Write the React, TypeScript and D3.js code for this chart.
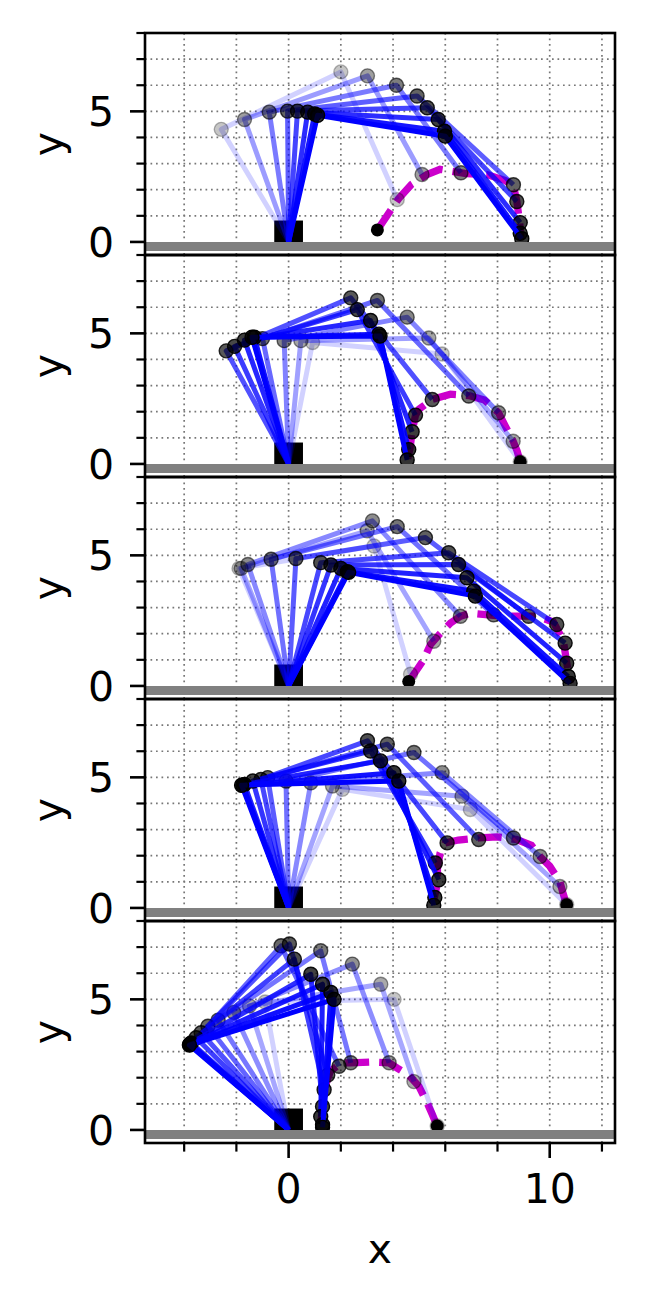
import React from "react";
import * as d3 from "d3";

// figure layout (pixels)
const W = 647;
const H = 1302;
const axLeft = 145;
const axRight = 615;
const axTop = 33;
const panelH = 222;

// axes ranges and ticks
const xDomain = [-5.5, 12.5];
const yDomain = [-0.5, 8];
const xMajorTicks = [0, 10];
const xMinorTicks = [-4, -2, 2, 4, 6, 8, 12];
const yMajorTicks = [0, 5];
const yMinorTicks = [1, 2, 3, 4, 6, 7, 8];
const xGridLines = [-4, -2, 0, 2, 4, 6, 8, 10, 12];
const yGridLines = [1, 2, 3, 4, 5, 6, 7];

// each frame: hip (ax, ay), knee (bx, by), foot (cx, cy); base joint at (0, 0)
const frames1 = [
  [-2.58, 4.31, 2.0, 6.51, 4.16, 1.62],
  [-1.69, 4.69, 3.02, 6.36, 5.11, 2.58],
  [-0.74, 4.97, 4.13, 6.0, 6.6, 2.65],
  [-0.04, 5.01, 4.92, 5.59, 8.61, 2.19],
  [0.34, 5.01, 5.31, 5.14, 8.74, 1.55],
  [0.73, 4.97, 5.73, 4.69, 8.87, 0.74],
  [1.0, 4.9, 5.97, 4.24, 8.87, 0.33],
  [1.11, 4.85, 6.0, 4.05, 8.93, 0.12],
];
const path1 = [
  [3.4, 0.46], [3.8, 1.05], [4.2, 1.64], [4.7, 2.2], [5.3, 2.58], [5.8, 2.78],
  [6.8, 2.62], [7.6, 2.58], [8.3, 2.35], [8.61, 2.15], [8.74, 1.55], [8.85, 0.74], [8.9, 0.1],
];
const start1 = [3.4, 0.46];

const frames2 = [
  [0.92, 4.65, 5.88, 4.21, 8.87, 0.08],
  [0.47, 4.72, 5.37, 4.82, 8.6, 0.87],
  [-0.17, 4.72, 4.54, 5.62, 8.04, 1.96],
  [-1.0, 4.8, 3.4, 6.26, 6.9, 2.6],
  [-2.39, 4.33, 2.38, 6.36, 5.5, 2.47],
  [-2.07, 4.5, 2.63, 5.91, 4.86, 1.87],
  [-1.69, 4.74, 3.14, 5.49, 4.73, 1.23],
  [-1.31, 4.85, 3.46, 4.97, 4.6, 0.55],
  [-1.4, 4.85, 3.5, 4.9, 4.54, 0.15],
];
const path2 = [
  [8.87, 0.08], [8.75, 0.5], [8.6, 0.87], [8.3, 1.45], [8.04, 1.96], [7.5, 2.45], [6.9, 2.62],
  [6.2, 2.67], [5.5, 2.47], [5.0, 2.1], [4.86, 1.87], [4.73, 1.23], [4.65, 0.6], [4.54, 0.1],
];
const start2 = [8.87, 0.08];

const frames3 = [
  [-1.9, 4.5, 3.27, 5.36, 4.67, 0.45],
  [-1.82, 4.5, 3.01, 5.94, 5.56, 1.71],
  [-1.56, 4.65, 3.21, 6.32, 6.58, 2.67],
  [-0.67, 4.85, 4.16, 6.1, 7.85, 2.72],
  [0.28, 4.88, 5.24, 5.68, 9.19, 2.67],
  [1.23, 4.72, 6.13, 5.1, 10.27, 2.35],
  [1.62, 4.63, 6.51, 4.65, 10.59, 1.64],
  [2.0, 4.5, 6.83, 4.14, 10.65, 0.87],
  [2.25, 4.37, 7.09, 3.63, 10.71, 0.36],
  [2.3, 4.35, 7.15, 3.44, 10.78, 0.1],
];
const path3 = [
  [4.6, 0.17], [4.9, 0.6], [5.17, 1.0], [5.43, 1.58], [5.8, 2.0], [6.2, 2.41], [6.58, 2.67],
  [6.96, 2.79], [7.85, 2.7], [8.5, 2.67], [9.5, 2.67], [10.14, 2.45], [10.52, 1.74],
  [10.65, 0.9], [10.78, 0.1],
];
const start3 = [4.6, 0.17];

const frames4 = [
  [2.06, 4.54, 6.96, 3.77, 10.65, 0.12],
  [1.68, 4.67, 6.64, 4.28, 10.39, 0.82],
  [0.85, 4.79, 5.88, 5.18, 9.63, 1.97],
  [-0.1, 4.86, 4.8, 5.95, 8.61, 2.68],
  [-0.8, 4.99, 3.78, 6.27, 7.28, 2.62],
  [-1.06, 4.92, 3.02, 6.4, 6.07, 2.49],
  [-1.37, 4.86, 3.14, 6.01, 5.62, 1.72],
  [-1.69, 4.73, 3.52, 5.63, 5.75, 1.08],
  [-1.75, 4.7, 4.03, 5.18, 5.6, 0.4],
  [-1.8, 4.7, 4.22, 4.86, 5.56, 0.1],
];
const path4 = [
  [10.65, 0.1], [10.5, 0.6], [10.39, 1.0], [10.0, 1.6], [9.63, 1.97], [9.3, 2.4], [8.74, 2.62],
  [8.0, 2.72], [7.28, 2.68], [6.5, 2.6], [6.0, 2.49], [5.8, 2.1], [5.7, 1.5], [5.7, 0.95], [5.56, 0.3],
];
const start4 = [10.65, 0.12];

const frames5 = [
  [-0.9, 4.9, 4.04, 5.0, 5.69, 0.15],
  [-1.5, 4.75, 3.53, 5.58, 4.8, 1.85],
  [-2.1, 4.5, 2.44, 6.35, 3.85, 2.57],
  [-2.7, 4.2, 1.23, 6.86, 2.38, 2.57],
  [-3.09, 3.97, -0.29, 7.05, 1.93, 2.44],
  [-3.35, 3.72, 0.03, 7.12, 1.5, 2.1],
  [-3.54, 3.53, 0.22, 6.54, 1.36, 1.54],
  [-3.73, 3.33, 0.85, 5.96, 1.3, 0.9],
  [-3.75, 3.3, 1.3, 5.58, 1.23, 0.51],
  [-3.78, 3.28, 1.62, 5.26, 1.3, 0.2],
  [-3.8, 3.25, 1.74, 5.0, 1.3, 0.1],
];
const path5 = [
  [5.69, 0.15], [5.5, 0.6], [5.31, 1.03], [4.99, 1.67], [4.6, 2.1], [4.16, 2.37], [3.85, 2.57],
  [3.1, 2.6], [2.38, 2.57], [2.0, 2.56], [1.6, 2.25], [1.36, 1.54], [1.3, 0.9], [1.25, 0.4], [1.3, 0.1],
];
const start5 = [5.69, 0.15];

const panels = [
  { frames: frames1, path: path1, start: start1 },
  { frames: frames2, path: path2, start: start2 },
  { frames: frames3, path: path3, start: start3 },
  { frames: frames4, path: path4, start: start4 },
  { frames: frames5, path: path5, start: start5 },
];

const FONT = "DejaVu Sans, sans-serif";
const FS = 41;

const x = d3.scaleLinear().domain(xDomain).range([axLeft, axRight]);

function Panel({ idx, data }) {
  const top = axTop + idx * panelH;
  const y = d3.scaleLinear().domain(yDomain).range([top + panelH, top]);
  const line = d3.line().x((d) => x(d[0])).y((d) => y(d[1]));
  const n = data.frames.length;
  const clipId = "clip" + idx;
  return (
    <g>
      <defs>
        <clipPath id={clipId}>
          <rect x={axLeft} y={top} width={axRight - axLeft} height={panelH} />
        </clipPath>
      </defs>
      <g clipPath={`url(#${clipId})`}>
        {xGridLines.map((v) => (
          <line key={"gx" + v} x1={x(v)} x2={x(v)} y1={top} y2={top + panelH}
            stroke="#777" strokeWidth={1.7} strokeDasharray="1.7,3.8" />
        ))}
        {yGridLines.map((v) => (
          <line key={"gy" + v} x1={axLeft} x2={axRight} y1={y(v)} y2={y(v)}
            stroke="#777" strokeWidth={1.7} strokeDasharray="1.7,3.8" />
        ))}
        {/* base block */}
        <rect x={x(-0.55)} y={y(0.82)} width={x(0.55) - x(-0.55)} height={y(-0.3) - y(0.82)} fill="#000" />
        {/* foot trajectory */}
        <path d={line(data.path)} fill="none" stroke="#cc00cc" strokeWidth={7.3}
          strokeDasharray="24,10" />
        {data.frames.map((f, i) => {
          const t = i / (n - 1);
          const a = 0.18 + 0.82 * Math.pow(t, 0.7);
          const a0 = 0.15 + 0.85 * t;
          const ca = 1 - Math.pow(1 - a0, 2);
          const pts = [[0, 0], [f[0], f[1]], [f[2], f[3]], [f[4], f[5]]];
          return (
            <g key={i}>
              <path d={line(pts)} fill="none" stroke="#0000ff" strokeOpacity={a} strokeWidth={5}
                strokeLinejoin="round" />
              {pts.slice(1).map((p, j) => (
                <circle key={j} cx={x(p[0])} cy={y(p[1])} r={7} fill="#000" fillOpacity={ca * 0.8}
                  stroke="#000" strokeOpacity={ca} strokeWidth={1.4} />
              ))}
            </g>
          );
        })}
        <circle cx={x(data.start[0])} cy={y(data.start[1])} r={6.5} fill="#000" />
        {/* ground */}
        <line x1={axLeft} x2={axRight} y1={y(-0.175)} y2={y(-0.175)} stroke="#808080" strokeWidth={9.2} />
      </g>
      <rect x={axLeft} y={top} width={axRight - axLeft} height={panelH} fill="none" stroke="#000" strokeWidth={2.6} />
      {yMajorTicks.map((v) => (
        <g key={"ym" + v}>
          <line x1={axLeft - 15} x2={axLeft} y1={y(v)} y2={y(v)} stroke="#000" strokeWidth={2.6} />
          <text x={axLeft - 31} y={y(v) + 15} textAnchor="end" fontFamily={FONT} fontSize={FS}>{v}</text>
        </g>
      ))}
      {yMinorTicks.map((v) => (
        <line key={"yn" + v} x1={axLeft - 8.6} x2={axLeft} y1={y(v)} y2={y(v)} stroke="#000" strokeWidth={2.2} />
      ))}
      <text transform={`translate(62,${top + panelH / 2}) rotate(-90)`} textAnchor="middle"
        fontFamily={FONT} fontSize={FS}>y</text>
    </g>
  );
}

export default function App() {
  const bottom = axTop + panels.length * panelH;
  return (
    <div style={{ position: "absolute", left: 0, top: 0 }}>
      <svg width={W} height={H} style={{ display: "block", background: "#fff" }}>
        {panels.map((p, i) => (
          <Panel key={i} idx={i} data={p} />
        ))}
        {xMajorTicks.map((v) => (
          <g key={"xm" + v}>
            <line x1={x(v)} x2={x(v)} y1={bottom} y2={bottom + 15} stroke="#000" strokeWidth={2.6} />
            <text x={x(v)} y={bottom + 60} textAnchor="middle" fontFamily={FONT} fontSize={FS}>{v}</text>
          </g>
        ))}
        {xMinorTicks.map((v) => (
          <line key={"xn" + v} x1={x(v)} x2={x(v)} y1={bottom} y2={bottom + 8.6} stroke="#000" strokeWidth={2.2} />
        ))}
        <text x={(axLeft + axRight) / 2} y={bottom + 120} textAnchor="middle" fontFamily={FONT} fontSize={FS}>x</text>
      </svg>
    </div>
  );
}
